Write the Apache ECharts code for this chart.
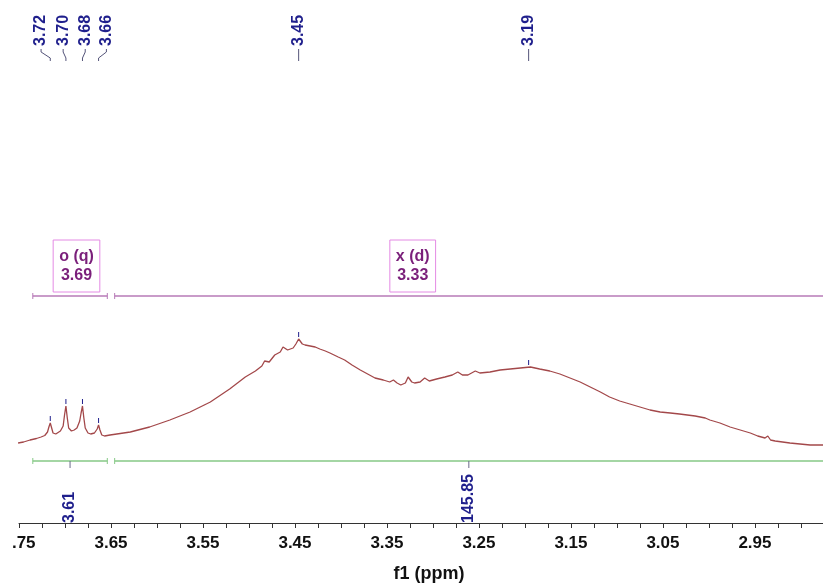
<!DOCTYPE html>
<html>
<head>
<meta charset="utf-8">
<script src="https://cdn.jsdelivr.net/npm/echarts@6.0.0/dist/echarts.min.js"></script>
<style>
html,body{margin:0;padding:0;background:#fff;}
#chart{width:823px;height:585px;}
</style>
</head>
<body>
<div id="chart"></div>
<script>
// ---- spectrum (chemical shift in ppm, intensity in arbitrary units) ----
const ppm = [
  3.751, 3.745, 3.738, 3.731, 3.726, 3.722, 3.719, 3.7175, 3.716, 3.7145,
  3.713, 3.710, 3.708, 3.705, 3.702, 3.7005, 3.699, 3.6975, 3.696, 3.693,
  3.690, 3.687, 3.684, 3.6825, 3.681, 3.6795, 3.678, 3.675, 3.672, 3.668,
  3.665, 3.6635, 3.662, 3.660, 3.657, 3.651, 3.629, 3.608, 3.586, 3.564,
  3.542, 3.521, 3.504, 3.493, 3.486, 3.483, 3.478, 3.472, 3.466, 3.463,
  3.458, 3.452, 3.449, 3.446, 3.442, 3.439, 3.428, 3.423, 3.417, 3.412,
  3.403, 3.396, 3.388, 3.379, 3.371, 3.363, 3.354, 3.347, 3.343, 3.339,
  3.335, 3.330, 3.327, 3.323, 3.320, 3.314, 3.309, 3.304, 3.296, 3.287,
  3.279, 3.273, 3.268, 3.262, 3.254, 3.249, 3.238, 3.227, 3.216, 3.205,
  3.194, 3.184, 3.173, 3.162, 3.151, 3.140, 3.129, 3.118, 3.108, 3.097,
  3.086, 3.075, 3.064, 3.053, 3.042, 3.032, 3.015, 3.004, 2.999, 2.988,
  2.977, 2.966, 2.955, 2.947, 2.939, 2.936, 2.933, 2.928, 2.912, 2.890,
  2.876
];
const intensity = [
  3, 4, 6, 7.5, 9, 10.5, 14, 19, 23, 18,
  13, 12, 13, 15, 20, 31, 40, 28, 18, 15,
  16, 18, 25, 33, 40, 28, 18, 13, 12, 13,
  17, 21, 16, 11, 10, 11, 14, 19, 26, 34,
  44, 57, 69, 75, 80, 85, 84, 91, 94, 99,
  96, 98, 102, 107, 102, 101, 99, 97, 95, 93,
  89, 86, 81, 76, 72, 68, 66, 64, 66, 63,
  61, 63, 69, 64, 63, 64, 68, 65, 67, 69,
  71, 74, 71, 71, 75, 73, 74, 76, 77, 78,
  79, 77, 75, 72, 68, 64, 59, 54, 49, 45,
  42, 39, 36, 34, 33, 32, 30, 28, 26, 23,
  19, 16, 13, 10, 8, 10, 6, 5, 3, 1,
  1
];

// ---- peak picking ----
const peakLabels = ['3.72', '3.70', '3.68', '3.66', '3.45', '3.19'];
const peakPositions = [3.716, 3.699, 3.681, 3.6635, 3.446, 3.196];
const peakLabelPositions = [3.726, 3.702, 3.678, 3.655, 3.446, 3.196];

// ---- multiplets / integrals ----
const multipletNames = ['o (q)', 'x (d)'];
const multipletShifts = ['3.69', '3.33'];
const multipletLabelPositions = [3.6875, 3.322];
const rangeStarts = [3.735, 3.646];
const rangeEnds = [3.654, 2.87];
const integralValues = ['3.61', '145.85'];
const integralLabelPositions = [3.6945, 3.261];

// ---- axis ----
const xTickLabels = [3.75, 3.65, 3.55, 3.45, 3.35, 3.25, 3.15, 3.05, 2.95];
const xMin = 2.876, xMax = 3.75;

// ---- layout (vertical rows, in intensity units of the hidden y axis) ----
const Y_MIN = -77, Y_MAX = 446;
const ROW = {
  peakText: 400, hookTop: 397, hookBend1: 394, hookBend2: 388, hookBottom: 385,
  box: 180, range: 150, integral: -15, integralTick: -22, integralText: -77
};
const NAVY = '#1f1f8c';
const PURPLE_TEXT = '#7a1f7a';
const BOX_BORDER = '#e48ae4';
const RANGE_PURPLE = '#b77ab7';
const GREEN = '#86c986';
const FONT = 'Arial, "Liberation Sans", sans-serif';

const minorTicks = [];
for (let k = 0; k <= 40; k++) {
  const v = +(3.75 - 0.025 * k).toFixed(3);
  if (v >= xMin) minorTicks.push(v);
}

function nearestIntensity(p) {
  let best = 0, bd = Infinity;
  for (let i = 0; i < ppm.length; i++) {
    const d = Math.abs(ppm[i] - p);
    if (d < bd) { bd = d; best = i; }
  }
  return intensity[best];
}

function renderPeak(params, api) {
  const i = api.value(2);
  const lx = api.value(0), px = api.value(1);
  const t = api.coord([lx, ROW.peakText]);
  const a = api.coord([lx, ROW.hookTop]);
  const b = api.coord([lx, ROW.hookBend1]);
  const c = api.coord([px, ROW.hookBend2]);
  const d = api.coord([px, ROW.hookBottom]);
  const h = nearestIntensity(px);
  const m1 = api.coord([px, h + 2]);
  const m2 = api.coord([px, h + 7]);
  return {
    type: 'group',
    children: [
      { type: 'text', x: t[0], y: t[1], rotation: Math.PI / 2,
        style: { text: peakLabels[i], fill: NAVY, font: 'bold 16px ' + FONT, align: 'left', verticalAlign: 'middle' } },
      { type: 'polyline', shape: { points: [a, b, c, d] }, style: { stroke: '#55557a', lineWidth: 1, fill: null } },
      { type: 'line', shape: { x1: m1[0], y1: m1[1], x2: m2[0], y2: m2[1] }, style: { stroke: NAVY, lineWidth: 1 } }
    ]
  };
}

function capLine(p, color) {
  return { type: 'line', shape: { x1: p[0], y1: p[1] - 3, x2: p[0], y2: p[1] + 3 }, style: { stroke: color, lineWidth: 1 } };
}

function renderMultiplet(params, api) {
  const i = api.value(1);
  const s = rangeStarts[i], e = rangeEnds[i];
  const box = api.coord([multipletLabelPositions[i], ROW.box]);
  const r1 = api.coord([s, ROW.range]), r2 = api.coord([e, ROW.range]);
  const g1 = api.coord([s, ROW.integral]), g2 = api.coord([e, ROW.integral]);
  const it1 = api.coord([integralLabelPositions[i], ROW.integral]);
  const it2 = api.coord([integralLabelPositions[i], ROW.integralTick]);
  const itx = api.coord([integralLabelPositions[i], ROW.integralText]);
  return {
    type: 'group',
    children: [
      { type: 'text', x: box[0], y: box[1],
        style: { text: multipletNames[i] + '\n' + multipletShifts[i], fill: PURPLE_TEXT,
          font: 'bold 16px ' + FONT, align: 'center', verticalAlign: 'middle', lineHeight: 19,
          borderColor: BOX_BORDER, borderWidth: 1, padding: [7, 6, 7, 6] } },
      { type: 'line', shape: { x1: r1[0], y1: r1[1], x2: r2[0], y2: r2[1] }, style: { stroke: RANGE_PURPLE, lineWidth: 1.4 } },
      capLine(r1, RANGE_PURPLE), capLine(r2, RANGE_PURPLE),
      { type: 'line', shape: { x1: g1[0], y1: g1[1], x2: g2[0], y2: g2[1] }, style: { stroke: GREEN, lineWidth: 1.4 } },
      capLine(g1, GREEN), capLine(g2, GREEN),
      { type: 'line', shape: { x1: it1[0], y1: it1[1], x2: it2[0], y2: it2[1] }, style: { stroke: '#6a6a8a', lineWidth: 1 } },
      { type: 'text', x: itx[0], y: itx[1], rotation: Math.PI / 2,
        style: { text: integralValues[i], fill: NAVY, font: 'bold 16px ' + FONT, align: 'left', verticalAlign: 'middle' } }
    ]
  };
}

const chart = echarts.init(document.getElementById('chart'), null, { renderer: 'canvas' });
chart.setOption({
  animation: false,
  backgroundColor: '#ffffff',
  grid: { left: 19, right: 0, top: 0, bottom: 62, containLabel: false, outerBoundsMode: 'none' },
  xAxis: {
    type: 'value', min: xMin, max: xMax, inverse: true,
    name: 'f1 (ppm)', nameLocation: 'middle', nameGap: 42,
    nameTextStyle: { color: '#111', fontWeight: 'bold', fontSize: 18, fontFamily: FONT, padding: [0, 0, 0, 16] },
    axisLine: { show: true, onZero: false, lineStyle: { color: '#333', width: 1 } },
    axisTick: { show: true, length: 5, inside: false, customValues: minorTicks, lineStyle: { color: '#333' } },
    axisLabel: { show: true, customValues: xTickLabels, margin: 12, color: '#111', fontWeight: 'bold', fontSize: 17, fontFamily: FONT,
      // the leftmost label is cut at the image edge in the reference: its leading digit is hidden
      formatter: v => (v === xMax ? '{h|' + v.toFixed(2).charAt(0) + '}' + v.toFixed(2).slice(1) : v.toFixed(2)),
      rich: { h: { color: 'rgba(255,255,255,0)', fontWeight: 'bold', fontSize: 17, fontFamily: FONT } } },
    splitLine: { show: false }
  },
  yAxis: { type: 'value', min: Y_MIN, max: Y_MAX, show: false, splitLine: { show: false } },
  series: [
    {
      type: 'line', data: ppm.map((p, i) => [p, intensity[i]]), showSymbol: false, symbol: 'none',
      lineStyle: { color: '#a3484a', width: 1.3 }, silent: true, z: 3
    },
    {
      type: 'custom', renderItem: renderPeak, silent: true, z: 4,
      data: peakLabels.map((t, i) => [peakLabelPositions[i], peakPositions[i], i])
    },
    {
      type: 'custom', renderItem: renderMultiplet, silent: true, z: 4,
      data: multipletNames.map((n, i) => [multipletLabelPositions[i], i])
    }
  ]
});
</script>
</body>
</html>
